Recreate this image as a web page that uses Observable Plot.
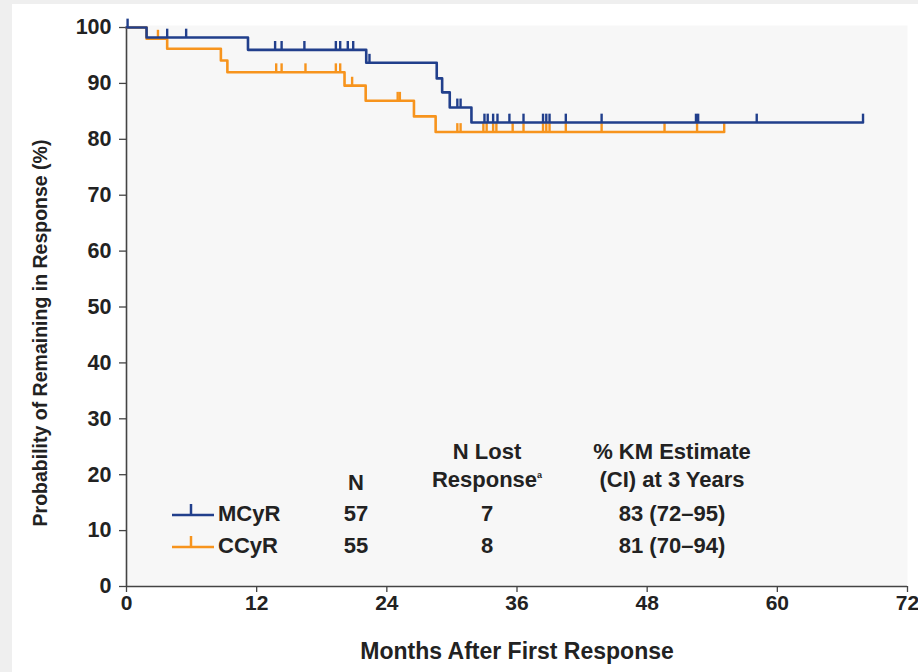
<!DOCTYPE html>
<html><head><meta charset="utf-8">
<script src="https://cdn.jsdelivr.net/npm/d3@7"></script>
<script src="https://cdn.jsdelivr.net/npm/@observablehq/plot@0.6"></script>
<style>
html,body{margin:0;padding:0;}
body{background:#efefef;width:918px;height:672px;overflow:hidden;position:relative;font-family:"Liberation Sans",Arial,sans-serif;}
#card{position:absolute;left:12px;top:4px;width:906px;height:668px;background:#fff;}
#card svg{position:absolute;left:0;top:0;}
.cell{position:absolute;font-weight:bold;font-size:22px;color:#222;white-space:nowrap;line-height:1;transform:translate(-50%,-50%);}
.lcell{position:absolute;font-weight:bold;font-size:22px;color:#222;white-space:nowrap;line-height:1;transform:translate(0,-50%);}
.sym{position:absolute;}
sup{font-size:9px;vertical-align:9px;}
</style></head><body><div id="card"></div>
<script>
// ---- data ----
const series = ["MCyR", "CCyR"];
const seriesColors = ["#213f8c", "#f7941d"];

// Kaplan-Meier step points (months, % remaining in response)
const mcyrTimes = [0, 1.85, 11.2, 22.1, 28.6, 29.1, 29.8, 31.8, 67.9];
const mcyrSurv  = [100, 98.2, 96.0, 93.7, 90.9, 88.4, 85.7, 83.0, 83.0];
const mcyrCensor = [0.1, 3.75, 5.5, 13.7, 14.3, 16.4, 19.3, 19.7, 20.4, 20.9, 22.4,
  30.5, 30.8, 33.0, 33.3, 33.8, 34.2, 35.3, 36.6, 38.4, 38.7, 39.0, 40.5, 43.8,
  52.5, 52.7, 58.1, 67.9];

const ccyrTimes = [0, 1.85, 3.75, 8.7, 9.3, 20.1, 22.05, 26.5, 28.5, 55.1];
const ccyrSurv  = [100, 98.0, 96.2, 94.1, 92.0, 89.6, 86.9, 84.1, 81.3, 81.3];
const ccyrCensor = [2.9, 13.8, 14.3, 16.5, 19.3, 19.7, 20.8, 25.0, 25.2, 30.5, 30.8,
  32.9, 33.2, 33.8, 34.1, 35.6, 36.6, 38.4, 38.7, 39.0, 40.5, 43.8, 49.6, 52.6, 55.1];

const xTicks = [0, 12, 24, 36, 48, 60, 72];
const yTicks = [0, 10, 20, 30, 40, 50, 60, 70, 80, 90, 100];

const tableN = [57, 55];
const tableLost = [7, 8];
const tableKM = ["83 (72–95)", "81 (70–94)"];

const xTitle = "Months After First Response";
const yTitle = "Probability of Remaining in Response (%)";

// ---- build tables ----
function steps(name, times, surv) {
  return times.map((t, i) => ({series: name, t, s: surv[i]}));
}
function levelAt(times, surv, t) {
  let v = surv[0];
  for (let i = 0; i < times.length; i++) if (times[i] <= t) v = surv[i];
  return v;
}
function censors(name, times, surv, cens) {
  return cens.map(t => ({series: name, t, s: levelAt(times, surv, t)}));
}
const mSteps = steps("MCyR", mcyrTimes, mcyrSurv);
const cSteps = steps("CCyR", ccyrTimes, ccyrSurv);
const mCens = censors("MCyR", mcyrTimes, mcyrSurv, mcyrCensor);
const cCens = censors("CCyR", ccyrTimes, ccyrSurv, ccyrCensor);

const font = "Liberation Sans, Arial, sans-serif";
const chart = Plot.plot({
  width: 906, height: 668,
  marginLeft: 114, marginRight: 11, marginTop: 21, marginBottom: 86,
  x: {domain: [0, 72]},
  y: {domain: [0, 100.36]},
  color: {domain: series, range: seriesColors},
  style: {background: "transparent", fontFamily: font, color: "#222"},
  marks: [
    Plot.frame({fill: "#f7f7f7", stroke: "none"}),
    Plot.axisY(yTicks, {tickSize: 7, tickPadding: 8, fontSize: 21.5, fontWeight: "bold", label: null, stroke: "#444", strokeWidth: 1.3}),
    Plot.axisX(xTicks, {tickSize: 6, tickPadding: 3, fontSize: 21, fontWeight: "bold", label: null, stroke: "#444", strokeWidth: 1.3}),
    Plot.ruleX([0], {y1: 0, y2: 100, stroke: "#444", strokeWidth: 1.6}),
    Plot.ruleY([0], {stroke: "#444", strokeWidth: 1.6}),
    Plot.text([xTitle], {frameAnchor: "bottom", dy: 72, fontSize: 23, fontWeight: "bold", fill: "#222"}),
    Plot.text([yTitle], {frameAnchor: "left", textAnchor: "middle", rotate: -90, dx: -86, dy: 27, fontSize: 19.5, fontWeight: "bold", fill: "#222"}),
    Plot.line(cSteps, {x: "t", y: "s", stroke: "series", curve: "step-after", strokeWidth: 2.6}),
    Plot.ruleX(cCens, {x: "t", y1: "s", y2: d => d.s + 1.5, stroke: "series", strokeWidth: 2.4}),
    Plot.line(mSteps, {x: "t", y: "s", stroke: "series", curve: "step-after", strokeWidth: 2.6}),
    Plot.ruleX(mCens, {x: "t", y1: "s", y2: d => d.s + 1.5, stroke: "series", strokeWidth: 2.4})
  ]
});
const card = document.getElementById("card");
card.appendChild(chart);

// ---- legend table (HTML overlay) ----
function add(cls, x, y, html) {
  const d = document.createElement("div");
  d.className = cls;
  d.style.left = (x - 12) + "px";
  d.style.top = (y - 4) + "px";
  d.innerHTML = html;
  card.appendChild(d);
}
add("cell", 487, 452, "N Lost");
add("cell", 487, 480, "Response<sup>a</sup>");
add("cell", 672, 452, "% KM Estimate");
add("cell", 672, 480, "(CI) at 3 Years");
add("cell", 356, 483, "N");
const rowY = [514, 546];
series.forEach((name, i) => {
  const y = rowY[i];
  const s = document.createElementNS("http://www.w3.org/2000/svg", "svg");
  s.setAttribute("width", 46); s.setAttribute("height", 18);
  s.setAttribute("class", "sym");
  s.style.left = (170 - 12) + "px";
  s.style.top = (y - 13 - 4) + "px";
  s.innerHTML = `<line x1="2" x2="44" y1="14" y2="14" stroke="${seriesColors[i]}" stroke-width="2.5"/>` +
                `<line x1="21" x2="21" y1="14" y2="3" stroke="${seriesColors[i]}" stroke-width="2.5"/>`;
  card.appendChild(s);
  add("lcell", 218, y, name);
  add("cell", 356, y, String(tableN[i]));
  add("cell", 487, y, String(tableLost[i]));
  add("cell", 672, y, tableKM[i]);
});
</script>
</body></html>
